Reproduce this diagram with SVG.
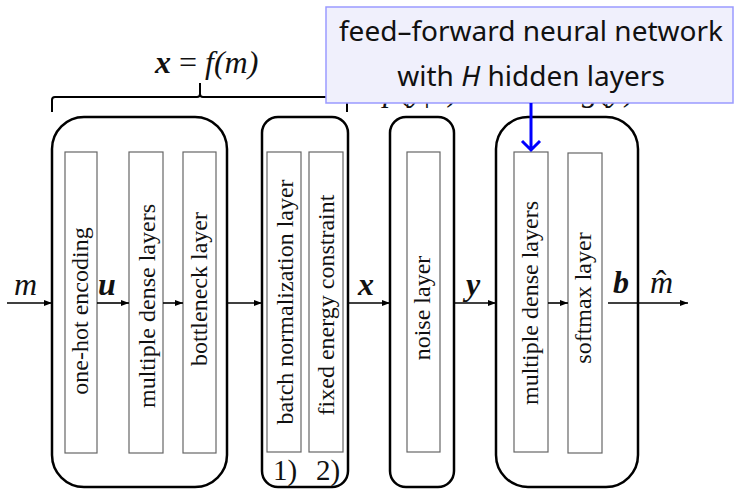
<svg xmlns="http://www.w3.org/2000/svg" width="734" height="491" viewBox="0 0 734 491">
  <style>
    .outer { fill: none; stroke: #000; stroke-width: 2.5; }
    .layer { fill: #fff; stroke: #666; stroke-width: 1.2; }
    .ltxt { font-family: "Liberation Serif", serif; font-size: 24px; fill: #111; text-anchor: middle; }
    .num { font-family: "Liberation Serif", serif; font-size: 29px; fill: #111; text-anchor: middle; }
    .math { font-family: "Liberation Serif", serif; font-size: 32px; fill: #111; }
    .conn { fill: none; stroke: #000; stroke-width: 1.6; }
    .brace { fill: none; stroke: #000; stroke-width: 2; }
    .note { font-family: "Noto Sans", sans-serif; font-size: 28px; fill: #111; text-anchor: middle; }
  </style>
  <defs>
    <marker id="ah" markerWidth="8" markerHeight="6" refX="8" refY="3" orient="auto" markerUnits="userSpaceOnUse">
      <path d="M0,0 L8,3 L0,6 Z" fill="#000"/>
    </marker>
  </defs>

  <rect width="734" height="491" fill="#fff"/>

  <!-- encoder brace and label -->
  <path class="brace" d="M52,112 V100 Q52,97 55,97 H197 Q200,97 200,94 V83 M200,94 Q200,97 203,97 H344 Q347,97 347,100 V112"/>
  <text class="math" x="155" y="73"><tspan font-weight="bold" font-style="italic">x</tspan> = <tspan font-style="italic">f</tspan><tspan font-style="italic">(m)</tspan></text>

  <!-- channel and decoder labels (mostly behind the callout) -->
  <text class="math" x="383" y="101"><tspan font-style="italic">p</tspan>(<tspan font-weight="bold" font-style="italic">y</tspan>|<tspan font-weight="bold" font-style="italic">x</tspan>)</text>
  <text class="math" x="582" y="101"><tspan font-style="italic">g</tspan>(<tspan font-weight="bold" font-style="italic">y</tspan>)</text>

  <!-- encoder -->
  <g id="encoder">
    <rect class="outer" x="52" y="117" width="175" height="370" rx="32"/>
    <rect class="layer" x="65" y="152" width="32" height="301"/>
    <rect class="layer" x="129" y="152" width="34" height="301"/>
    <rect class="layer" x="183" y="152" width="33" height="301"/>
    <text class="ltxt" transform="translate(88,311) rotate(-90)">one-hot encoding</text>
    <text class="ltxt" transform="translate(155,306) rotate(-90)">multiple dense layers</text>
    <text class="ltxt" transform="translate(207,289) rotate(-90)">bottleneck layer</text>
  </g>

  <!-- normalization -->
  <g id="normalization">
    <rect class="outer" x="262" y="117" width="86" height="370" rx="16"/>
    <rect class="layer" x="267" y="152" width="34" height="300"/>
    <rect class="layer" x="309" y="152" width="34" height="300"/>
    <text class="ltxt" transform="translate(293,302) rotate(-90)">batch normalization layer</text>
    <text class="ltxt" transform="translate(334,305) rotate(-90)">fixed energy constraint</text>
    <text class="num" x="285" y="480">1)</text>
    <text class="num" x="328" y="480">2)</text>
  </g>

  <!-- channel -->
  <g id="channel">
    <rect class="outer" x="390" y="117" width="64" height="370" rx="16"/>
    <rect class="layer" x="407" y="152" width="33" height="300"/>
    <text class="ltxt" transform="translate(430,308) rotate(-90)">noise layer</text>
  </g>

  <!-- decoder -->
  <g id="decoder">
    <rect class="outer" x="496" y="117" width="142" height="370" rx="32"/>
    <rect class="layer" x="514" y="152" width="34" height="300"/>
    <rect class="layer" x="568" y="153" width="34" height="300"/>
    <text class="ltxt" transform="translate(538,303) rotate(-90)">multiple dense layers</text>
    <text class="ltxt" transform="translate(591,298) rotate(-90)">softmax layer</text>
  </g>

  <!-- connectors -->
  <g id="connectors">
    <line class="conn" x1="7" y1="303" x2="52" y2="303" marker-end="url(#ah)"/>
    <line class="conn" x1="97" y1="303" x2="129" y2="303" marker-end="url(#ah)"/>
    <line class="conn" x1="163" y1="303" x2="183" y2="303" marker-end="url(#ah)"/>
    <line class="conn" x1="227" y1="303" x2="262" y2="303" marker-end="url(#ah)"/>
    <line class="conn" x1="348" y1="303" x2="390" y2="303" marker-end="url(#ah)"/>
    <line class="conn" x1="454" y1="303" x2="496" y2="303" marker-end="url(#ah)"/>
    <line class="conn" x1="548" y1="303" x2="568" y2="303" marker-end="url(#ah)"/>
    <line class="conn" x1="608" y1="303" x2="688" y2="303" marker-end="url(#ah)"/>
  </g>

  <!-- signal labels -->
  <text class="math" x="14" y="295" font-style="italic">m</text>
  <text class="math" x="98" y="295" font-style="italic" font-weight="bold">u</text>
  <text class="math" x="358" y="295" font-style="italic" font-weight="bold">x</text>
  <text class="math" x="466" y="295" font-style="italic" font-weight="bold">y</text>
  <text class="math" x="613" y="293" font-style="italic" font-weight="bold">b</text>
  <text class="math" x="650" y="293" font-style="italic">m</text>
  <text class="math" x="661" y="292" text-anchor="middle">ˆ</text>

  <!-- callout -->
  <g id="callout">
    <rect x="326" y="7" width="407" height="96" fill="#f0f0fc" stroke="#9a9aff" stroke-width="1.5"/>
    <text class="note" x="531" y="41">feed–forward neural network</text>
    <text class="note" x="531" y="86">with <tspan font-style="italic">H</tspan> hidden layers</text>
    <path d="M531,103 V150 M522,141 L531,150 L540,141" fill="none" stroke="#0000ff" stroke-width="3"/>
  </g>
</svg>
